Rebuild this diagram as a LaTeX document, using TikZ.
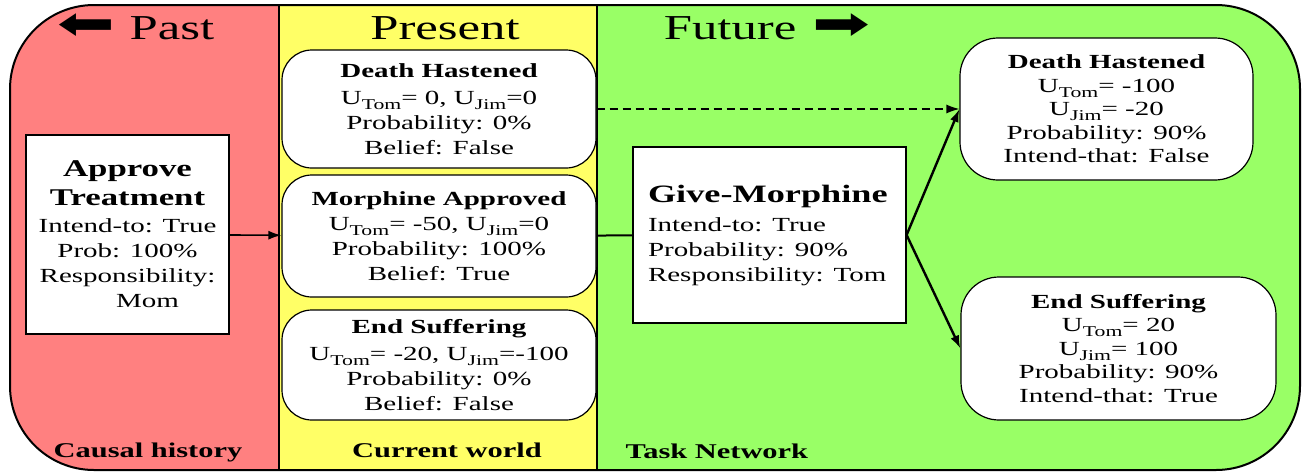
\documentclass[tikz,border=0pt]{standalone}
\usepackage{fontspec}
\setmainfont{Liberation Serif}[FakeStretch=1.45]
\newfontfamily\arrowfont{DejaVu Sans}[FakeStretch=1.5]
\usetikzlibrary{arrows.meta}
\definecolor{pastred}{RGB}{255,128,128}
\definecolor{nowyellow}{RGB}{255,255,102}
\definecolor{nextgreen}{RGB}{153,255,102}
\newcommand{\util}[1]{U\raisebox{-5pt}{\fontsize{15}{15}\selectfont #1}}
\newcommand{\bigfont}{\fontsize{35}{40}\selectfont}
\newcommand{\headfont}{\fontsize{24}{29}\selectfont\bfseries}
\newcommand{\labelfont}{\fontsize{21}{25}\selectfont\bfseries}
\tikzstyle{eventbox}=[draw, fill=white, line width=1.2pt, rounded corners=30pt, align=center, inner sep=0pt, font=\fontsize{20}{25}\selectfont]
\tikzstyle{outcomebox}=[eventbox, rounded corners=38pt, font=\fontsize{20}{23.5}\selectfont]
\tikzstyle{taskbox}=[draw, fill=white, line width=1.2pt, inner sep=0pt, font=\fontsize{20}{25}\selectfont]

\begin{document}
\begin{tikzpicture}[x=1pt, y=-1pt, thick, >={Latex[length=13pt,width=9pt]}]
    \useasboundingbox (0,0) rectangle (1302,472);
    % the three time bands
    \begin{scope}
        \clip[rounded corners=84] (10,5) rectangle (1300,470);
        \fill[pastred]   (10,5)  rectangle (279,470);
        \fill[nowyellow] (279,5) rectangle (597,470);
        \fill[nextgreen] (597,5) rectangle (1300,470);
    \end{scope}
    \draw[line width=2pt, rounded corners=84] (10,5) rectangle (1300,470);
    \draw[line width=1.5pt] (279,5)--(279,470) (597,5)--(597,470);

    \node[anchor=base, font=\bigfont] (past) at (136,39) {{\arrowfont\fontsize{46}{46}\selectfont ⬅}\hspace{14pt}Past};
    \node[anchor=base, font=\bigfont] (present) at (445,39) {Present};
    \node[anchor=base, font=\bigfont] (future) at (767,39) {Future\hspace{16pt}{\arrowfont\fontsize{46}{46}\selectfont ➡}};

    \node[anchor=base, font=\labelfont] (causal) at (148,457) {Causal history};
    \node[anchor=base, font=\labelfont] (current) at (447,457) {Current world};
    \node[anchor=base west, font=\labelfont] (tasknet) at (622,458) {Task Network};

    % past
    \node[taskbox, align=center, minimum width=203, minimum height=199] (approve) at (127.5,234.5)
        {{\headfont Approve}\\[4pt]{\headfont Treatment}\\[2pt]Intend-to: True\\ Prob: 100\%\\ Responsibility:\\ \hspace*{40pt}Mom};

    % present
    \node[eventbox, minimum width=314, minimum height=118] (dhNow) at (439,109)
        {\textbf{Death Hastened}\\[2pt]\util{Tom}= 0, \util{Jim}=0\\ Probability: 0\%\\ Belief: False};
    \node[eventbox, minimum width=314, minimum height=122] (maNow) at (439,236)
        {\textbf{Morphine Approved}\\ \util{Tom}= -50, \util{Jim}=0\\ Probability: 100\%\\ Belief: True};
    \node[eventbox, minimum width=314, minimum height=110] (esNow) at (439,365)
        {\textbf{End Suffering}\\[2pt]\util{Tom}= -20, \util{Jim}=-100\\ Probability: 0\%\\ Belief: False};

    % future
    \node[taskbox, align=left, text width=243pt, inner xsep=15pt, minimum height=176] (give) at (769.5,235)
        {{\fontsize{25}{30}\selectfont\bfseries Give-Morphine}\\[4pt]Intend-to: True\\ Probability: 90\%\\ Responsibility: Tom};
    \node[outcomebox, minimum width=293, minimum height=142] (dhNext) at (1106.5,109)
        {\textbf{Death Hastened}\\ \util{Tom}=\ -100\\ \util{Jim}= -20\\ Probability: 90\%\\ Intend-that: False};
    \node[outcomebox, minimum width=315, minimum height=143] (esNext) at (1118.5,348.5)
        {\textbf{End Suffering}\\ \util{Tom}= 20\\ \util{Jim}= 100\\ Probability: 90\%\\ Intend-that: True};

    \draw[->, line width=1.6pt] (approve)--(maNow);
    \draw[line width=2pt] (maNow)--(give);
    \draw[->, dash pattern=on 8pt off 5pt, line width=1.2pt] (dhNow)--(dhNext);
    \draw[->, line width=2.4pt] (give.east)--(dhNext.west);
    \draw[->, line width=2.4pt] (give.east)--(esNext.west);
\end{tikzpicture}
\end{document}
